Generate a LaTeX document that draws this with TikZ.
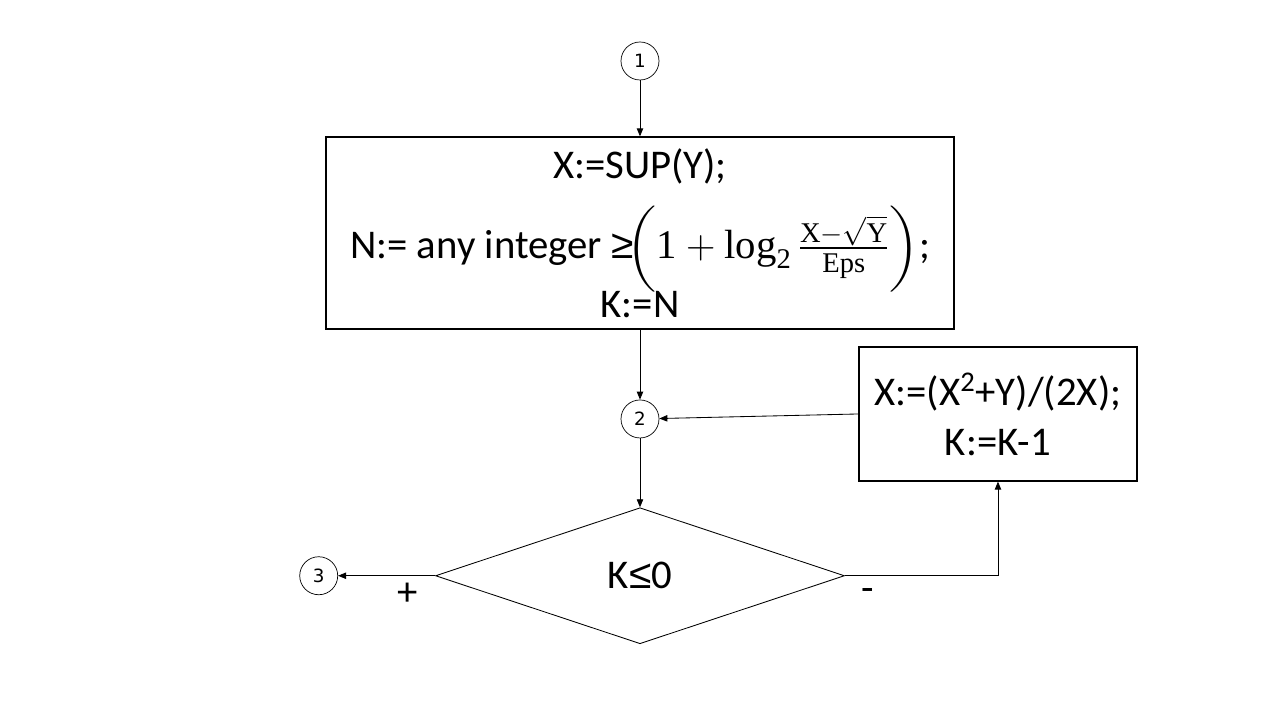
\documentclass[tikz,border=0pt]{standalone}
\usepackage{fix-cm}
\usepackage{amsmath,amssymb,graphicx}
\usepackage{fontspec}
\setmainfont{Carlito}
\setmathrm{Liberation Serif}
\newfontfamily\numfont{DejaVu Sans}
\newfontfamily\relfont{Liberation Sans}
\usetikzlibrary{positioning,arrows.meta,shapes.geometric}
\newcommand{\flowfont}{\fontsize{29}{35}\selectfont}
\newcommand{\midl}{\mathopen{\scalebox{1}[0.88]{$\bigg($}}}
\newcommand{\midr}{\mathclose{\scalebox{1}[0.88]{$\bigg)$}}}

\begin{document}
\begin{tikzpicture}[
  x=1mm, y=1mm,
  conn/.style={draw, circle, line width=0.5pt, minimum size=9.5mm, inner sep=0pt, font=\numfont\fontsize{13}{15}\selectfont},
  box/.style={draw, line width=0.9pt, align=center, font=\flowfont},
  cond/.style={draw, diamond, aspect=3, line width=0.6pt, inner sep=0pt, minimum width=102.25mm, minimum height=34mm, font=\flowfont},
  sign/.style={font=\flowfont, inner sep=0pt},
  arr/.style={-{Triangle[length=2mm,width=1.6mm]}, line width=0.6pt}]
\useasboundingbox (-160,15.25) rectangle (160,-164.75);
\node[conn] (c1) at (0,0) {1};
\node[box, below=14mm of c1, minimum width=157mm, minimum height=48mm] (init) {X:=SUP(Y);\\[15pt] N:= any integer {\relfont ≥}$\!\midl\mathrm{1}+\log_{\mathrm{2}}\frac{\mathrm{X}-\sqrt{\mathrm{Y}}}{\mathrm{Eps}}\midr$;\\[-2pt] K:=N};
\node[conn, below=17.5mm of init] (c2) {2};
\node[cond, below=17.25mm of c2] (test) {K{\relfont ≤}0};
\node[conn, left=24.25mm of test] (c3) {3};
\node[box, right=49.75mm of c2, yshift=1.25mm, minimum width=69.5mm, minimum height=33.5mm] (step) {X:=(X\textsuperscript{2}+Y)/(2X);\\ K:=K-1};
\node[sign] (plus) at ([shift={(-6.75,-4.75)}]test.west) {+};
\node[sign] (minus) at ([shift={(5.75,-4.75)}]test.east) {-};
\draw[arr] (c1) -- (init); \draw[arr] (init) -- (c2); \draw[arr] (c2) -- (test);
\draw[arr] (step.west) -- (c2); \draw[arr] (test.east) -| (step.south); \draw[arr] (test.west) -- (c3);
\end{tikzpicture}
\end{document}
